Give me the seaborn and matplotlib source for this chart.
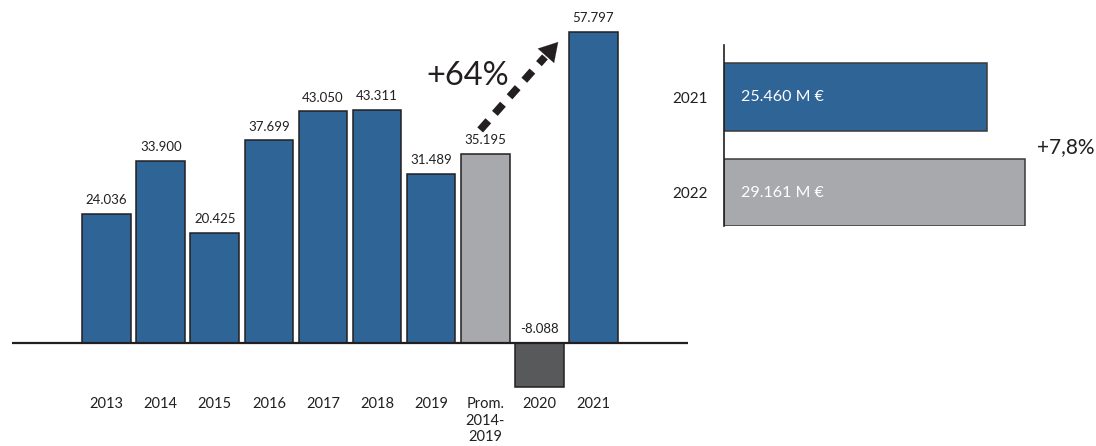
import matplotlib
matplotlib.use("Agg")
import matplotlib.pyplot as plt
import seaborn as sns
import pandas as pd

# Annual results (thousands of euros), plus the 2014-2019 average
categories = ["2013", "2014", "2015", "2016", "2017", "2018", "2019",
              "Prom.\n2014-\n2019", "2020", "2021"]
values = [24.036, 33.900, 20.425, 37.699, 43.050, 43.311, 31.489,
          35.195, -8.088, 57.797]
value_labels = ["24.036", "33.900", "20.425", "37.699", "43.050", "43.311",
                "31.489", "35.195", "-8.088", "57.797"]
growth_label = "+64%"

# Comparison of 2021 vs 2022 (millions of euros)
cmp_years = ["2021", "2022"]
cmp_values = [25.460, 29.161]
cmp_labels = ["25.460 M €", "29.161 M €"]
cmp_growth = "+7,8%"

BLUE = "#2f6496"
GREY = "#a7a9ac"
DARK = "#58595b"
EDGE = "#231f20"
bar_colors = {c: BLUE for c in categories}
bar_colors["Prom.\n2014-\n2019"] = GREY
bar_colors["2020"] = DARK
cmp_colors = {"2021": BLUE, "2022": GREY}

sns.set_theme(style="white")
plt.rcParams["font.family"] = ["Lato", "DejaVu Sans"]

W, H = 1096, 446
fig = plt.figure(figsize=(W / 100, H / 100), dpi=100)

# ---- main bar chart ----
ax = fig.add_axes([12 / W, 0, 676 / W, 1])
df = pd.DataFrame({"cat": categories, "val": values})
sns.barplot(data=df, x="cat", y="val", hue="cat", palette=bar_colors,
            order=categories, width=0.9, edgecolor=EDGE, linewidth=1.1,
            saturation=1, legend=False, ax=ax)
ax.set_xlim(-1.75, 10.75)
ax.set_ylim(-19.14, 63.75)
ax.axhline(0, color=EDGE, lw=1.6, zorder=5)
ax.set_axis_off()

for i, (v, lab) in enumerate(zip(values, value_labels)):
    y = max(v, 0)
    ax.annotate(lab, (i, y), xytext=(0, 5.5), textcoords="offset points",
                ha="center", va="bottom", fontsize=9.5, color="#231f20")

for i, c in enumerate(categories):
    ax.text(i, -10.0, c, ha="center", va="top", fontsize=10.5,
            color="#231f20", linespacing=1.25)

# dashed growth arrow from the average bar to 2021
x0, y0 = 6.907, 39.6
x1, y1 = 8.35, 55.95
hx = x0 + (x1 - x0) * 0.83
hy = y0 + (y1 - y0) * 0.83
ax.plot([x0, hx], [y0, hy], color="#231f20", lw=5.5,
        dashes=(1.6, 1.3), solid_capstyle="butt", zorder=6)
ax.annotate("", xy=(x1, y1), xytext=(hx - (x1 - x0) * 0.02, hy - (y1 - y0) * 0.02),
            arrowprops=dict(arrowstyle="-|>,head_width=0.65,head_length=1.1",
                            color="#231f20", lw=0.1, shrinkA=0, shrinkB=0),
            zorder=6)
ax.text(6.667, 49.6, growth_label, ha="center", va="center", fontsize=23.5,
        color="#231f20")

# ---- comparison chart ----
ax2 = fig.add_axes([724 / W, 1 - 226 / H, (W - 724) / W, 181 / H])
df2 = pd.DataFrame({"year": cmp_years, "val": cmp_values})
sns.barplot(data=df2, y="year", x="val", hue="year", palette=cmp_colors,
            order=cmp_years, orient="h", width=0.71, edgecolor="#3a3a3a",
            linewidth=1.1, saturation=1, legend=False, ax=ax2)
ax2.set_xlim(0, (W - 724) / 10.32)
ax2.set_ylim(1.35, -0.545)
for s in ["top", "right", "bottom"]:
    ax2.spines[s].set_visible(False)
ax2.spines["left"].set_color(EDGE)
ax2.spines["left"].set_linewidth(1.2)
ax2.set_xticks([])
ax2.set_xlabel("")
ax2.set_ylabel("")
ax2.tick_params(axis="y", length=0, pad=12, labelsize=11, labelcolor="#231f20")
for i, lab in enumerate(cmp_labels):
    ax2.text(1.6, i, lab, ha="left", va="center", fontsize=11.5,
             color="white")

fig.text(1037 / W, 1 - 147 / H, cmp_growth, ha="left", va="center",
         fontsize=15, color="#231f20")

fig.savefig("out.png", dpi=100, facecolor="white")
